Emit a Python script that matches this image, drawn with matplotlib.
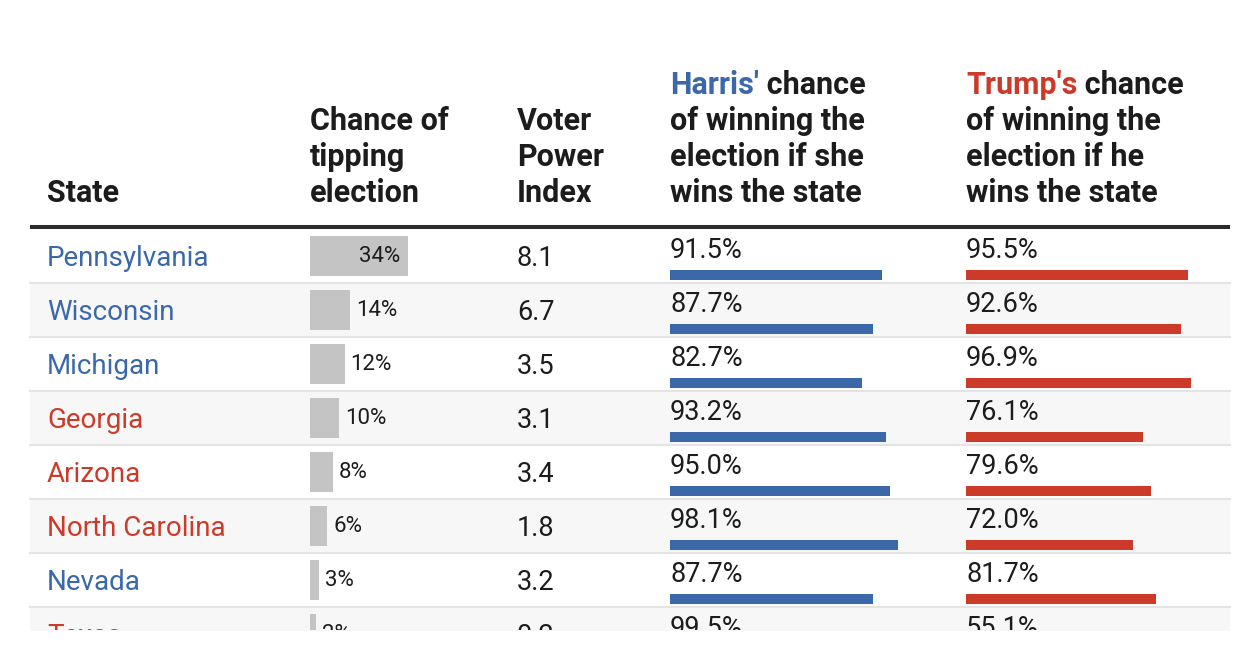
import matplotlib
matplotlib.use('Agg')
import matplotlib.pyplot as plt

# DATA
states=['Pennsylvania','Wisconsin','Michigan','Georgia','Arizona','North Carolina','Nevada','Texas']
state_party=['D','D','D','R','R','R','D','R']
tipping=[34,14,12,10,8,6,3,2]
vpi=[8.1,6.7,3.5,3.1,3.4,1.8,3.2,0.2]
harris_win=[91.5,87.7,82.7,93.2,95.0,98.1,87.7,99.5]
trump_win=[95.5,92.6,96.9,76.1,79.6,72.0,81.7,55.1]

BLUE='#3a68a8'
RED='#cc3b2a'
INK='#1c1c1c'
GREY_BAR='#c4c4c4'
SHADE='#f7f7f7'
SEP='#e4e4e4'
plt.rcParams['font.family']=['Roboto','DejaVu Sans']

# layout in pixels
X0,X1=30,1230
TOP=229 ; ROWH=54
XSTATE,XTIP,XVPI,XH,XT=47,310,517,670,966
TIP_PX=2.88   # px per % point
WIN_PX=2.32
HDR_BASE=202 ; HDR_STEP=36

fig=plt.figure(figsize=(12.6,6.6),dpi=100)
ax=fig.add_axes([0,30/660,1,630/660])
ax.set_xlim(0,1260) ; ax.set_ylim(630,0)
ax.axis('off')

# header
def hdr(x,lines,first=None,firstcol=None):
    n=len(lines)
    for k,l in enumerate(lines):
        y=HDR_BASE-HDR_STEP*(n-1-k)
        if k==0 and first is not None:
            t=ax.text(x,y,first,color=firstcol,fontsize=22,fontweight='bold',va='baseline',ha='left')
            ax.annotate(l,xy=(1,0),xycoords=t,color=INK,fontsize=22,fontweight='bold',va='bottom',ha='left')
        else:
            ax.text(x,y,l,color=INK,fontsize=22,fontweight='bold',va='baseline',ha='left')

hdr(XSTATE,['State'])
hdr(XTIP,['Chance of','tipping','election'])
hdr(XVPI,['Voter','Power','Index'])
hdr(XH,[' chance','of winning the','election if she','wins the state'],"Harris'",BLUE)
hdr(XT,[' chance','of winning the','election if he','wins the state'],"Trump's",RED)
ax.plot([X0,X1],[TOP-2,TOP-2],color='#2b2b2b',lw=2.9,solid_capstyle='butt')

# rows
for i,s in enumerate(states):
    top=TOP+ROWH*i
    if i%2==1:
        ax.fill_between([X0,X1],top,top+ROWH,color=SHADE,lw=0,zorder=0)
    ax.plot([X0,X1],[top+ROWH,top+ROWH],color=SEP,lw=1.5,zorder=1)
    mid=top+ROWH/2
    ax.text(XSTATE,mid+2,s,color=BLUE if state_party[i]=='D' else RED,fontsize=20,va='center',ha='left',clip_on=True)
    # tipping bar
    w=tipping[i]*TIP_PX
    ax.barh(mid,w,left=XTIP,height=40,color=GREY_BAR,zorder=2)
    if tipping[i]>=20:
        ax.text(XTIP+w-8,mid+1,'%d%%'%tipping[i],color=INK,fontsize=16,va='center',ha='right',clip_on=True,zorder=3)
    else:
        ax.text(XTIP+w+6,mid+1,'%d%%'%tipping[i],color=INK,fontsize=16,va='center',ha='left',clip_on=True,zorder=3)
    ax.text(XVPI,mid+2,'%.1f'%vpi[i],color=INK,fontsize=19.5,va='center',ha='left',clip_on=True)
    # conditional win chances
    for xs,val,col in ((XH,harris_win[i],BLUE),(XT,trump_win[i],RED)):
        ax.text(xs,top+21,'%.1f%%'%val,color=INK,fontsize=19.5,va='center',ha='left',clip_on=True)
        ax.barh(top+46,val*WIN_PX,left=xs,height=10,color=col,zorder=2)

fig.savefig('out.png',dpi=100,facecolor='white')
